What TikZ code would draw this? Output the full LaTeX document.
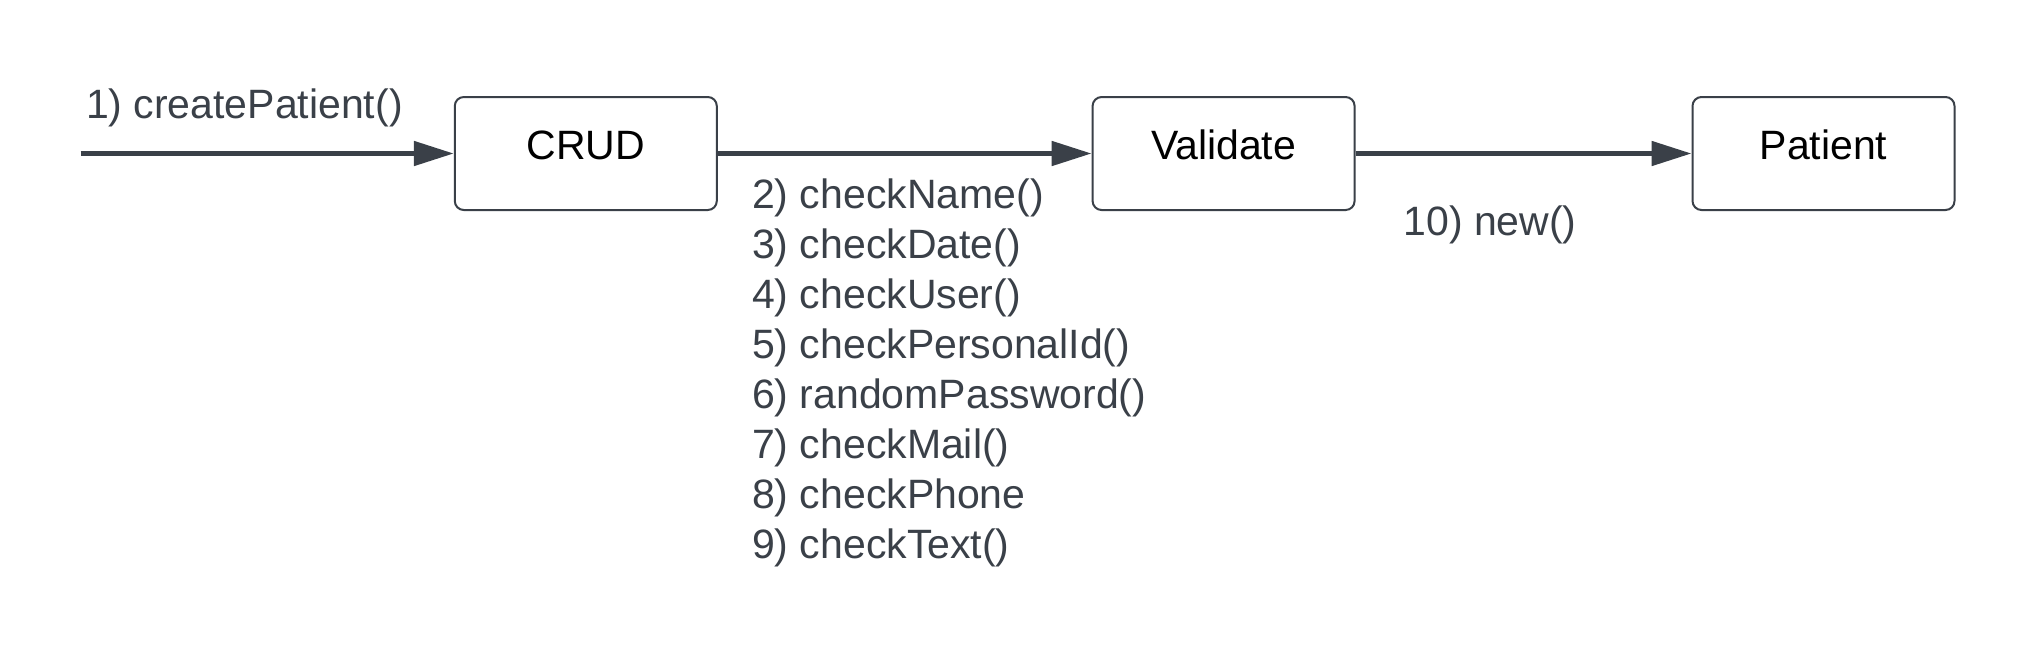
\documentclass[tikz,border=0pt]{standalone}
\usepackage{fontspec}
\setmainfont{Liberation Sans}
\usetikzlibrary{arrows.meta}
\definecolor{ink}{RGB}{58,64,72}
\tikzset{
  box/.style={draw=ink, line width=1pt, rounded corners=4.5pt, minimum width=131pt, minimum height=56.5pt,
    inner sep=0pt, text=black, text height=15pt, text depth=9.5pt, font=\fontsize{20.5pt}{25pt}\selectfont},
  lbl/.style={inner sep=0pt, text=ink, font=\fontsize{20.5pt}{25pt}\selectfont},
  arr/.style={draw=ink, line width=2.5pt, -{Triangle[length=20pt,width=12pt]}}
}
\begin{document}
\begin{tikzpicture}[x=0.5pt,y=-0.5pt]
\useasboundingbox[fill=white] (0,0) rectangle (2029,660);
\node[box] (crud) at (585.8,153.5) {CRUD};
\node[box] (validate) at (1223.6,153.5) {Validate};
\node[box] (patient) at (1823.5,153.5) {Patient};
\coordinate (start) at (80.7,153.5);
\draw[arr] (start) -- (crud);
\draw[arr] (crud) -- (validate);
\draw[arr] (validate) -- (patient);
\node[lbl, anchor=base west] (l1) at (85.6,118) {1) createPatient()};
\node[lbl, anchor=base west] (l10) at (1403,235) {10) new()};
\node[lbl, anchor=base west, align=left] (checks) at (751.7,558) {2) checkName()\\3) checkDate()\\4) checkUser()\\5) checkPersonalId()\\6) randomPassword()\\7) checkMail()\\8) checkPhone\\9) checkText()};
\end{tikzpicture}
\end{document}
